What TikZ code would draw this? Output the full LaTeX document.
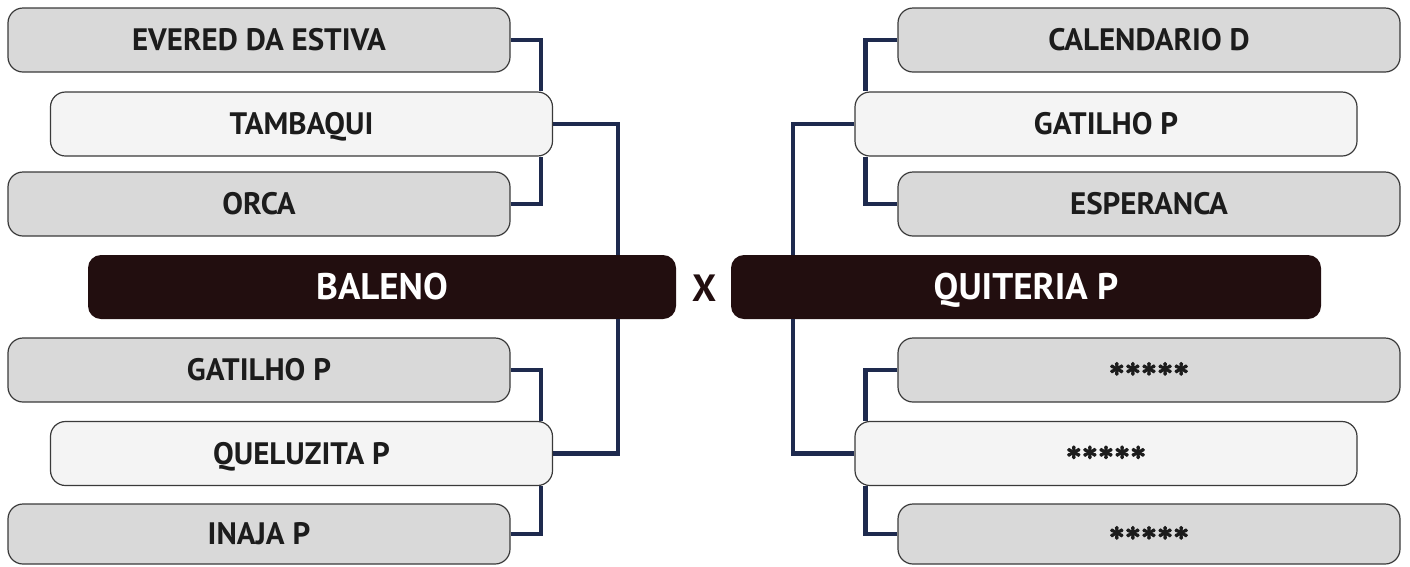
\RequirePackage{fix-cm}
\documentclass[tikz,border=0pt]{standalone}
\usepackage{fontspec}
\setmainfont{PT Sans}
\definecolor{boxgray}{HTML}{D9D9D9}
\definecolor{boxlight}{HTML}{F4F4F4}
\definecolor{boxline}{HTML}{3A3A3A}
\definecolor{dark}{HTML}{220E0F}
\definecolor{navy}{HTML}{1E2A4E}
\definecolor{txt}{HTML}{1C1C1C}
\newcommand{\stars}{\raisebox{5pt}{\fontsize{28}{30}\selectfont\special{pdf:literal direct 2 Tr 1.2 w}\boldmath$\mathord{\ast}\mathord{\ast}\mathord{\ast}\mathord{\ast}\mathord{\ast}$\special{pdf:literal direct 0 Tr}}}
\begin{document}
\begin{tikzpicture}[x=1pt,y=-1pt,
  team/.style={draw=boxline,line width=1.2pt,rounded corners=15pt,minimum width=502pt,minimum height=64pt,inner sep=0pt,
     font=\fontsize{31}{36}\selectfont\bfseries,text=txt,text height=21.7pt,text depth=0pt},
  grayteam/.style={team,fill=boxgray},
  lightteam/.style={team,fill=boxlight},
  final/.style={fill=dark,rounded corners=13pt,minimum height=64pt,inner sep=0pt,text=white,
     font=\fontsize{37}{42}\selectfont\bfseries,text height=25.9pt,text depth=0pt},
  conn/.style={draw=navy,line width=4.5pt}]
\useasboundingbox (0,0) rectangle (1410,566);
\coordinate (lbar) at (618,0);
\coordinate (rbar) at (793,0);
% nodes
\node[grayteam]  (ev)  at (259,40)    {EVERED DA ESTIVA};
\node[lightteam] (tb)  at (301.5,124) {TAMBAQUI};
\node[grayteam]  (orca) at (259,204)  {ORCA};
\node[final,minimum width=588pt] (bal) at (382,287) {BALENO};
\node[text=dark,font=\fontsize{38}{42}\selectfont\bfseries,text height=26.6pt,text depth=0pt,inner sep=0pt] (vs) at (705,288) {X};
\node[final,minimum width=590pt] (qui) at (1026,287) {QUITERIA P};
\node[grayteam]  (gl)  at (259,370)   {GATILHO P};
\node[lightteam] (ql)  at (301.5,453.5) {QUELUZITA P};
\node[grayteam,minimum height=60pt] (in) at (259,534) {INAJA P};
\node[grayteam]  (cal) at (1149,40)   {CALENDARIO D};
\node[lightteam] (gr)  at (1106,124)  {GATILHO P};
\node[grayteam]  (esp) at (1149,204)  {ESPERANCA};
\node[grayteam]  (s1)  at (1149,370)  {\stars};
\node[lightteam] (s2)  at (1106,453.5) {\stars};
\node[grayteam,minimum height=60pt] (s3) at (1149,534) {\stars};
% connectors
\draw[conn] (ev.east) -| ([xshift=-12pt]tb.north east);
\draw[conn] (orca.east) -| ([xshift=-12pt]tb.south east);
\draw[conn] (gl.east) -| ([xshift=-12pt]ql.north east);
\draw[conn] (in.east) -| ([xshift=-12pt]ql.south east);
\draw[conn] (tb.east) -| (bal.north -| lbar);
\draw[conn] (ql.east) -| (bal.south -| lbar);
\draw[conn] (cal.west) -| ([xshift=11pt]gr.north west);
\draw[conn] (esp.west) -| ([xshift=11pt]gr.south west);
\draw[conn] (s1.west) -| ([xshift=11pt]s2.north west);
\draw[conn] (s3.west) -| ([xshift=11pt]s2.south west);
\draw[conn] (gr.west) -| (qui.north -| rbar);
\draw[conn] (s2.west) -| (qui.south -| rbar);
\end{tikzpicture}
\end{document}
